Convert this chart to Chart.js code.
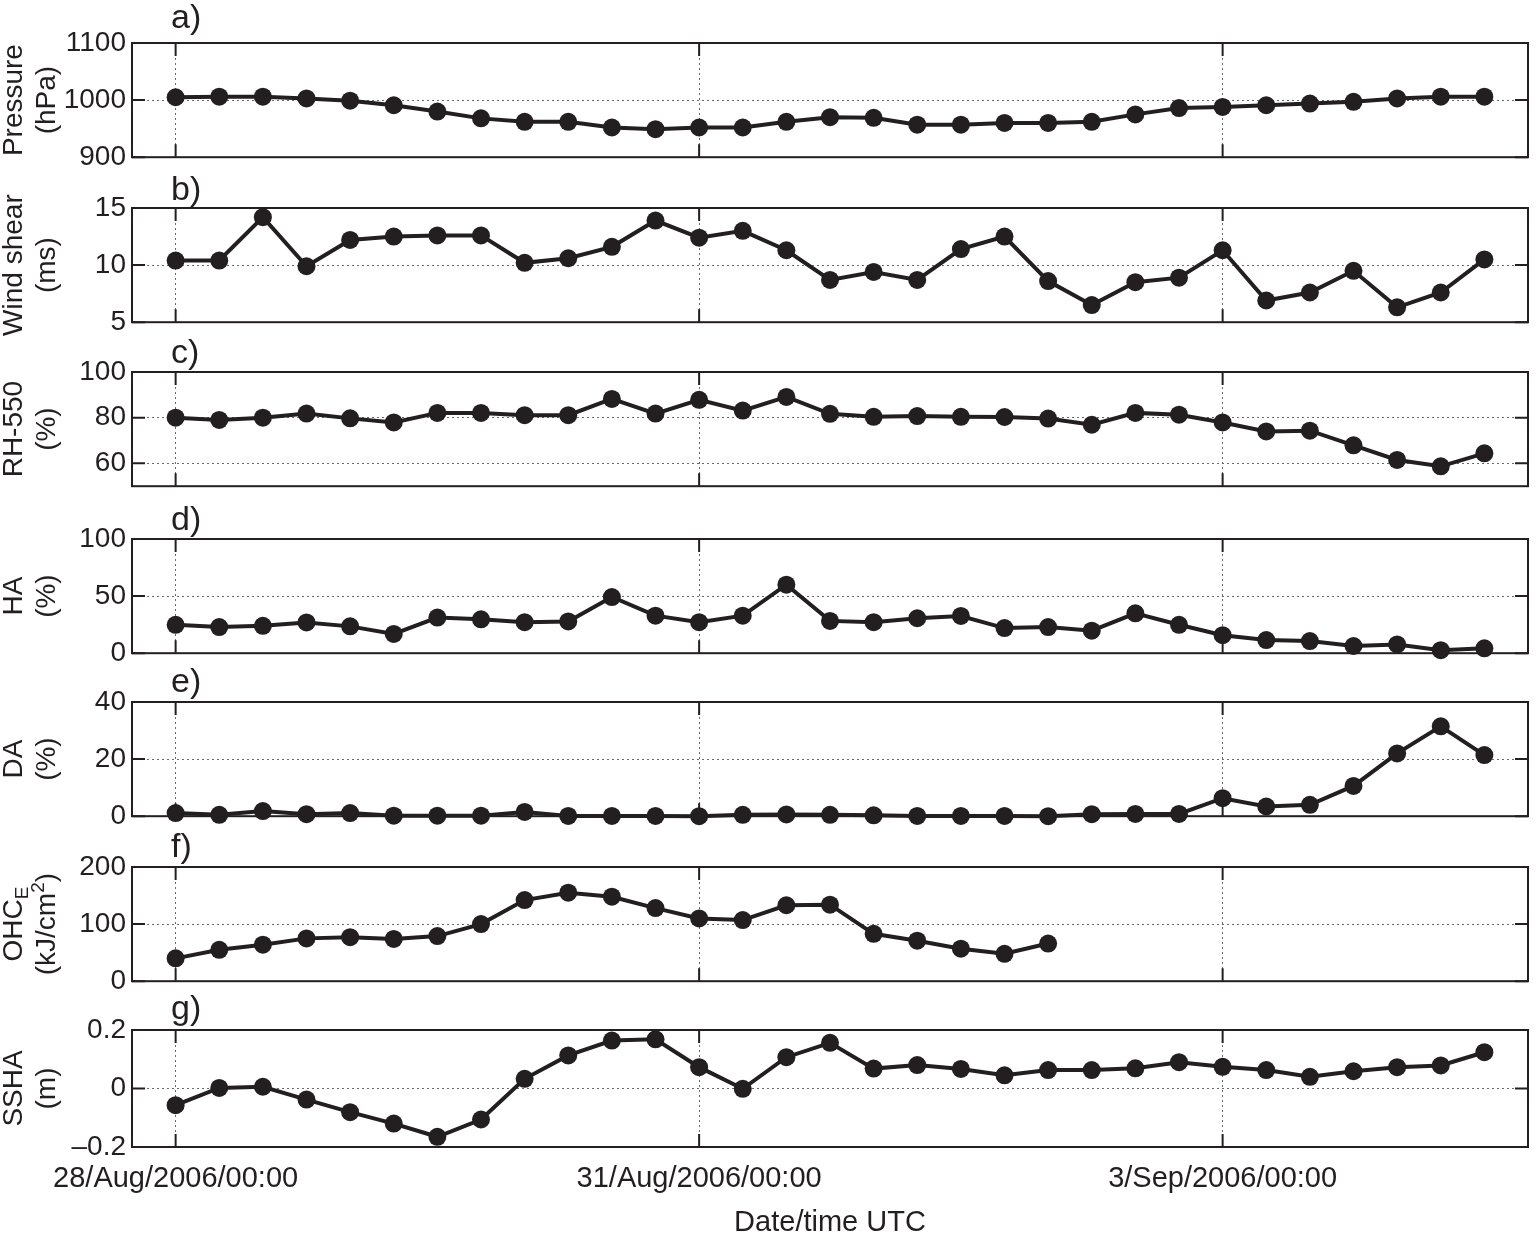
<!DOCTYPE html>
<html>
<head>
<meta charset="utf-8">
<script src="https://cdn.jsdelivr.net/npm/chart.js@4.4.1/dist/chart.umd.min.js"></script>
<style>
  html, body { margin: 0; padding: 0; background: #fff; overflow: hidden; }
  #wrap { position: relative; width: 1537px; height: 1234px; }
  #wrap canvas { position: absolute; left: 0; }
</style>
</head>
<body>
<div id="wrap"></div>
<script>
// 6-hourly samples, hours after 28/Aug/2006 00:00 UTC
const hours = [0, 6, 12, 18, 24, 30, 36, 42, 48, 54, 60, 66, 72, 78, 84, 90,
  96, 102, 108, 114, 120, 126, 132, 138, 144, 150, 156, 162, 168, 174, 180];
const tickHours = [0, 72, 144];
const tickLabels = ['28/Aug/2006/00:00', '31/Aug/2006/00:00', '3/Sep/2006/00:00'];

const pressure = [1005, 1006, 1006, 1003, 999, 991, 980, 968, 962, 962, 952, 949, 952, 952, 962, 970,
  969, 957, 957, 960, 960, 962, 975, 986, 988, 991, 994, 997, 1003, 1006, 1006];
const windShear = [10.4, 10.4, 14.2, 9.9, 12.2, 12.5, 12.6, 12.6, 10.2, 10.6, 11.6, 13.9, 12.4, 13.0, 11.3, 8.7,
  9.4, 8.7, 11.4, 12.5, 8.6, 6.5, 8.5, 8.9, 11.3, 6.9, 7.6, 9.5, 6.3, 7.6, 10.5];
const rh550 = [80.0, 79.0, 80.0, 81.8, 79.7, 77.9, 82.1, 82.1, 81.1, 81.1, 88.2, 81.8, 87.8, 83.1, 89.1, 81.7,
  80.4, 80.7, 80.4, 80.3, 79.6, 76.9, 82.1, 81.3, 77.9, 74.0, 74.3, 67.9, 61.5, 58.7, 64.4];
const ha = [24.9, 22.9, 24.0, 26.9, 23.5, 16.9, 31.2, 29.7, 27.2, 27.8, 49.2, 32.9, 27.2, 32.9, 60.0, 28.3,
  27.2, 30.6, 32.6, 22.0, 22.9, 19.7, 34.9, 24.9, 15.8, 11.5, 10.6, 6.3, 7.7, 2.6, 4.3];
const da = [1.1, 0.5, 1.8, 0.7, 1.1, 0.2, 0.2, 0.2, 1.5, 0.1, 0.1, 0.1, 0.0, 0.5, 0.6, 0.5,
  0.3, 0.1, 0.1, 0.1, 0.0, 0.7, 0.8, 0.8, 6.3, 3.4, 4.0, 10.6, 22.0, 31.5, 21.4];
const ohc = [40, 55, 64, 75, 77, 74, 79, 100, 142, 155, 148, 128, 110, 107, 133, 134,
  83, 71, 57, 48, 66];
const ssha = [-0.057, 0.002, 0.006, -0.038, -0.081, -0.12, -0.165, -0.106, 0.033, 0.113, 0.164, 0.168, 0.073, -0.001, 0.107, 0.156,
  0.068, 0.08, 0.067, 0.045, 0.063, 0.063, 0.069, 0.09, 0.074, 0.063, 0.04, 0.059, 0.073, 0.079, 0.124];

const ink = '#231f20';
const family = "'Liberation Sans', Arial, Helvetica, sans-serif";
const plotLeft = 132, plotRight = 1535, panelH = 117;
const above = 45, below = 20;

const panels = [
  { tag: 'a)', top: 43, tagGap: 15, values: pressure, min: 900, max: 1100, ticks: [900, 1000, 1100],
    title: [[{ t: 'Pressure' }], [{ t: '(hPa)' }]] },
  { tag: 'b)', top: 208, tagGap: 8, values: windShear, min: 5, max: 15, ticks: [5, 10, 15],
    title: [[{ t: 'Wind shear' }], [{ t: '(ms)' }]] },
  { tag: 'c)', top: 372, tagGap: 9, values: rh550, min: 50, max: 100, ticks: [60, 80, 100],
    title: [[{ t: 'RH-550' }], [{ t: '(%)' }]] },
  { tag: 'd)', top: 539, tagGap: 9, values: ha, min: 0, max: 100, ticks: [0, 50, 100],
    title: [[{ t: 'HA' }], [{ t: '(%)' }]] },
  { tag: 'e)', top: 702, tagGap: 10, values: da, min: 0, max: 40, ticks: [0, 20, 40],
    title: [[{ t: 'DA' }], [{ t: '(%)' }]] },
  { tag: 'f)', top: 867, tagGap: 10, values: ohc, min: 0, max: 200, ticks: [0, 100, 200],
    title: [[{ t: 'OHC' }, { t: 'E', sub: true }], [{ t: '(kJ/cm' }, { t: '2', sup: true }, { t: ')' }]] },
  { tag: 'g)', top: 1030, tagGap: 11, values: ssha, min: -0.2, max: 0.2, ticks: [-0.2, 0, 0.2],
    title: [[{ t: 'SSHA' }], [{ t: '(m)' }]] },
];

function drawRotated(ctx, parts, x, cy) {
  const sizeOf = p => (p.sub || p.sup) ? 19 : 28;
  let total = 0;
  parts.forEach(p => {
    ctx.font = sizeOf(p) + 'px ' + family;
    p.w = ctx.measureText(p.t).width;
    total += p.w;
  });
  ctx.save();
  ctx.translate(x, cy);
  ctx.rotate(-Math.PI / 2);
  ctx.textAlign = 'left';
  ctx.textBaseline = 'alphabetic';
  let cx = -total / 2;
  parts.forEach(p => {
    ctx.font = sizeOf(p) + 'px ' + family;
    const dy = p.sub ? 6 : (p.sup ? -11 : 0);
    ctx.fillText(p.t, cx, dy);
    cx += p.w;
  });
  ctx.restore();
}

const frame = {
  id: 'frame',
  beforeDatasetsDraw(chart, args, opts) {
    const { ctx, chartArea: a, scales } = chart;
    ctx.save();
    ctx.strokeStyle = ink;
    ctx.lineWidth = 2;
    ctx.setLineDash([]);
    ctx.strokeRect(a.left, a.top, a.right - a.left, a.bottom - a.top);

    // inward tick marks on all four sides
    ctx.beginPath();
    scales.y.ticks.forEach(t => {
      const py = scales.y.getPixelForValue(t.value);
      ctx.moveTo(a.left, py); ctx.lineTo(a.left + 13, py);
      ctx.moveTo(a.right, py); ctx.lineTo(a.right - 13, py);
    });
    scales.x.ticks.forEach(t => {
      const px = scales.x.getPixelForValue(t.value);
      ctx.moveTo(px, a.top); ctx.lineTo(px, a.top + 13);
      ctx.moveTo(px, a.bottom); ctx.lineTo(px, a.bottom - 13);
    });
    ctx.stroke();

    ctx.fillStyle = ink;
    ctx.font = '34px ' + family;
    ctx.textAlign = 'left';
    ctx.textBaseline = 'alphabetic';
    ctx.fillText(opts.tag, 171, a.top - opts.tagGap);

    const cy = (a.top + a.bottom) / 2;
    drawRotated(ctx, opts.title[0], 22, cy);
    drawRotated(ctx, opts.title[1], 55, cy);
    ctx.restore();
  }
};

const wrap = document.getElementById('wrap');

panels.forEach((p, idx) => {
  const last = idx === panels.length - 1;
  const height = last ? 260 : above + panelH + below;
  const canvas = document.createElement('canvas');
  canvas.width = 1537;
  canvas.height = height;
  canvas.style.top = (p.top - above) + 'px';
  wrap.appendChild(canvas);

  const grid = { color: '#6a6a6a', lineWidth: 1, drawTicks: false };
  const border = { display: false, dash: [2, 3] };

  new Chart(canvas.getContext('2d'), {
    type: 'line',
    data: {
      datasets: [{
        data: p.values.map((v, i) => ({ x: hours[i], y: v })),
        borderColor: ink,
        borderWidth: 4,
        pointRadius: 9,
        pointHoverRadius: 9,
        pointBackgroundColor: ink,
        pointBorderWidth: 0,
        tension: 0,
        clip: false
      }]
    },
    options: {
      responsive: false,
      animation: false,
      devicePixelRatio: 1,
      events: [],
      layout: { padding: { left: 0, right: 1537 - plotRight, top: above, bottom: last ? 0 : below } },
      plugins: {
        legend: { display: false },
        tooltip: { enabled: false },
        frame: { tag: p.tag, tagGap: p.tagGap, title: p.title }
      },
      scales: {
        x: {
          type: 'linear',
          min: -6,
          max: 186,
          afterBuildTicks: s => { s.ticks = tickHours.map(v => ({ value: v })); },
          afterFit: s => { s.height = last ? height - above - panelH : 0; },
          grid: grid,
          border: border,
          ticks: {
            display: last,
            padding: 15,
            color: ink,
            font: { family: family, size: 29 },
            maxRotation: 0,
            autoSkip: false,
            callback: v => tickLabels[tickHours.indexOf(v)]
          },
          title: {
            display: last,
            text: 'Date/time UTC',
            color: ink,
            font: { family: family, size: 29 },
            padding: { top: 0, bottom: 5 }
          }
        },
        y: {
          min: p.min,
          max: p.max,
          afterBuildTicks: s => { s.ticks = p.ticks.map(v => ({ value: v })); },
          afterFit: s => { s.width = plotLeft; },
          grid: grid,
          border: border,
          ticks: {
            padding: 6,
            color: ink,
            font: { family: family, size: 28 },
            callback: v => v < 0 ? '\u2013' + Math.abs(v) : String(v)
          }
        }
      }
    },
    plugins: [frame]
  });
});
</script>
</body>
</html>
